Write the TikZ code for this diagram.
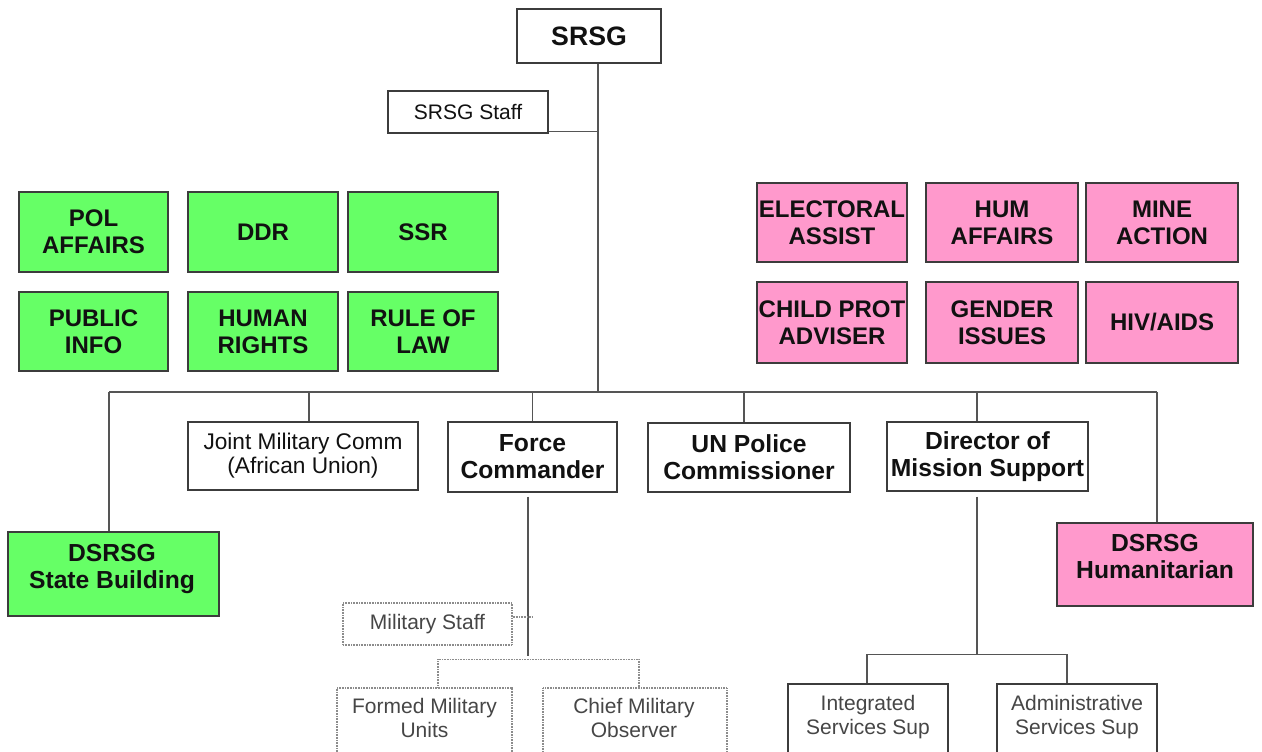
\documentclass[tikz,border=0pt]{standalone}
\usepackage{fontspec}
\setmainfont{Liberation Sans}
\usetikzlibrary{fit}

\definecolor{grn}{RGB}{102,255,102}
\definecolor{pnk}{RGB}{255,153,204}
\definecolor{edge}{RGB}{60,60,60}
\definecolor{wire}{RGB}{85,85,85}
\definecolor{ink}{RGB}{17,17,17}
\definecolor{mute}{RGB}{70,70,70}
\definecolor{dotgray}{RGB}{140,140,140}

\begin{document}
\begin{tikzpicture}[x=0.75pt, y=-0.75pt,
  box/.style={draw=edge, line width=1.1pt, inner sep=0pt, align=center, text=ink},
  wbox/.style={box, fill=white},
  gbox/.style={box, fill=grn},
  pbox/.style={box, fill=pnk},
  sz/.style 2 args={minimum width=#1*0.75pt, minimum height=#2*0.75pt},
  dotbox/.style={draw=dotgray, line width=0.8pt, dash pattern=on 0.6pt off 0.6pt,
                 fill=white, inner sep=0pt, align=center, text=mute},
  txt/.style={inner sep=0pt, align=center, text=ink},
  unitfont/.style={font=\fontsize{18}{20.25}\selectfont\bfseries},
  headfont/.style={font=\fontsize{18.5}{20.25}\selectfont\bfseries},
  lightfont/.style={font=\fontsize{15.75}{18}\selectfont, text=mute},
  link/.style={draw=wire, line width=1.1pt},
  dotlink/.style={draw=dotgray, line width=0.8pt, dash pattern=on 0.6pt off 0.6pt},
]
\useasboundingbox (0,0) rectangle (1262,752);
\clip (0,0) rectangle (1262,752);

% top of the chart
\node[wbox, sz={144}{54}, font=\fontsize{20}{22}\selectfont\bfseries] (srsg) at (589,36) {SRSG};
\node[wbox, sz={160}{42}, font=\fontsize{15.75}{18}\selectfont] (staff) at (468,112) {SRSG Staff};

% substantive sections (green)
\node[gbox, unitfont, sz={149}{80}] (pol) at (93.5,232) {POL\\AFFAIRS};
\node[gbox, unitfont, sz={150}{80}] (ddr) at (263,232) {DDR};
\node[gbox, unitfont, sz={150}{80}] (ssr) at (423,232) {SSR};
\node[gbox, unitfont, sz={149}{79}] (pub) at (93.5,331.5) {PUBLIC\\INFO};
\node[gbox, unitfont, sz={150}{79}] (hr) at (263,331.5) {HUMAN\\RIGHTS};
\node[gbox, unitfont, sz={150}{79}] (rol) at (423,331.5) {RULE OF\\LAW};

% humanitarian sections (pink)
\node[pbox, unitfont, sz={150}{79}] (elec) at (832,222.5) {ELECTORAL\\ASSIST};
\node[pbox, unitfont, sz={152}{79}] (huma) at (1002,222.5) {HUM\\AFFAIRS};
\node[pbox, unitfont, sz={152}{79}] (mine) at (1162,222.5) {MINE\\ACTION};
\node[pbox, unitfont, sz={150}{81}] (child) at (832,322.5) {CHILD PROT\\ADVISER};
\node[pbox, unitfont, sz={152}{81}] (gend) at (1002,322.5) {GENDER\\ISSUES};
\node[pbox, unitfont, sz={152}{81}] (hiv) at (1162,322.5) {HIV/AIDS};

% second tier
\node[gbox, fit={(8,532)(219,616)}] (dsb) {};
\node[txt, headfont] (dsb-t) at (112,569) {DSRSG\\State Building};
\node[wbox, sz={230}{68}, font=\fontsize{17}{18}\selectfont] (jmc) at (303,456) {Joint Military Comm\\(African Union)};
\node[wbox, headfont, sz={169}{70}] (fc) at (532.5,457) {Force\\Commander};
\node[wbox, headfont, sz={202}{69}] (unp) at (749,457.5) {UN Police\\Commissioner};
\node[wbox, headfont, sz={201}{69}] (dms) at (987.5,456.5) {Director of\\Mission Support};
\node[pbox, fit={(1057,523)(1253,606)}] (dhum) {};
\node[txt, headfont] (dhum-t) at (1155,557) {DSRSG\\Humanitarian};

% military branch (dotted)
\node[dotbox, lightfont, sz={169}{42}] (mst) at (427.5,624) {Military Staff};
\node[dotbox, fit={(337,688)(512,790)}] (fmu) {};
\node[txt, lightfont, anchor=north] (fmu-t) at (424.5,698) {Formed Military\\Units};
\node[dotbox, fit={(543,688)(727,790)}] (cmo) {};
\node[txt, lightfont, anchor=north] (cmo-t) at (634,698) {Chief Military\\Observer};

% support branch
\node[wbox, fit={(788,684)(948,790)}] (isup) {};
\node[txt, lightfont, anchor=north] (isup-t) at (868,695) {Integrated\\Services Sup};
\node[wbox, fit={(997,684)(1157,790)}] (asup) {};
\node[txt, lightfont, anchor=north] (asup-t) at (1077,695) {Administrative\\Services Sup};

% junctions
\coordinate (bt) at (598,392);
\coordinate (busL) at (109,392);
\coordinate (busR) at (1157,392);
\coordinate (fcj) at (528,656);
\coordinate (dj) at (977,655);

% reporting lines
\draw[link] (srsg.south -| bt) -- (bt);
\draw[link] ([yshift=1.5pt]staff.south east) -- ([yshift=1.5pt]staff.south east -| bt);
\draw[link] (busL) -- (busR);
\draw[link] (busL) -- (busL |- dsb.north);
\draw[link] (busR) -- (busR |- dhum.north);
\draw[link] ([xshift=4.5pt]jmc.north |- bt) -- ([xshift=4.5pt]jmc.north);
\draw[link] (fc.north |- bt) -- (fc.north);
\draw[link] ([xshift=-3.75pt]unp.north |- bt) -- ([xshift=-3.75pt]unp.north);
\draw[link] ([xshift=-7.9pt]dms.north |- bt) -- ([xshift=-7.9pt]dms.north);

% under the Force Commander
\draw[link] (fcj |- fc.south) ++(0,4) -- (fcj);
\draw[dotlink] ([yshift=5.25pt]mst.east) -- ([xshift=3pt,yshift=5.25pt]mst.east -| fcj);
\draw[dotlink] ([xshift=10.1pt]fmu.north) -- ++(0,-28) -| ([xshift=3pt]cmo.north);

% under the Director of Mission Support
\draw[link] (dj |- dms.south) ++(0,5) -- (dj);
\draw[link] ([xshift=-0.75pt]isup.north) -- ++(0,-29) -| ([xshift=-7.5pt]asup.north);
\end{tikzpicture}
\end{document}
